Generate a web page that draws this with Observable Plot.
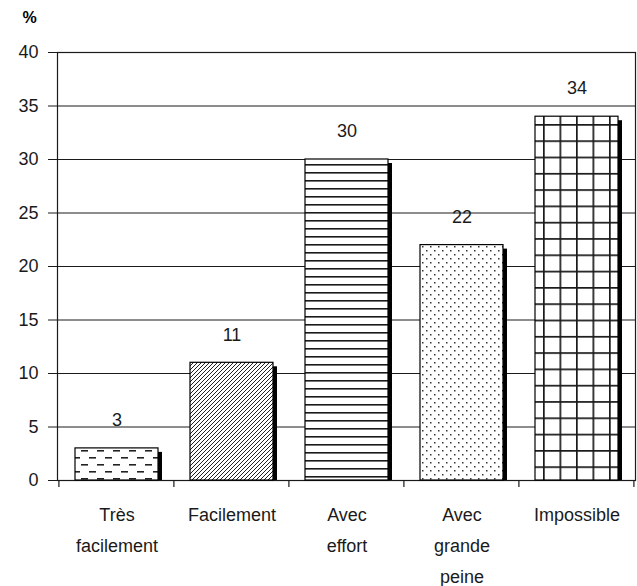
<!DOCTYPE html>
<html>
<head>
<meta charset="utf-8">
<script src="https://cdn.jsdelivr.net/npm/d3@7"></script>
<script src="https://cdn.jsdelivr.net/npm/@observablehq/plot@0.6"></script>
<style>
  body { margin: 0; background: #fff; }
  svg { display: block; }
</style>
</head>
<body>
<div id="chart"></div>
<script>
// Answers and their shares (%)
const categories = ["Très facilement", "Facilement", "Avec effort", "Avec grande peine", "Impossible"];
const categoryLabels = ["Très\nfacilement", "Facilement", "Avec\neffort", "Avec\ngrande\npeine", "Impossible"];
const values = [3, 11, 30, 22, 34];
const fillPatterns = ["dashes", "hatch", "hlines", "dots", "grid"];
const yTicks = [0, 5, 10, 15, 20, 25, 30, 35, 40];
const unitLabel = "%";

const data = categories.map((category, i) => ({
  category,
  value: values[i],
  fill: `url(#pat-${fillPatterns[i]})`
}));
const labelOf = new Map(categories.map((c, i) => [c, categoryLabels[i]]));

const FONT = "'Liberation Sans', Arial, sans-serif";
const INK = "#1a1a1a";
const PAD_INNER = 0.28;

// Monochrome fill patterns for the bars
function patternDefs() {
  const defs = d3.create("svg:defs");
  const pat = (id, w, h, x = 0, y = 0) => {
    const p = defs.append("pattern").attr("id", id)
      .attr("patternUnits", "userSpaceOnUse")
      .attr("x", x).attr("y", y).attr("width", w).attr("height", h);
    p.append("rect").attr("width", w).attr("height", h).attr("fill", "#fff");
    return p;
  };
  // short dashes, alternate rows shifted
  const dashes = pat("pat-dashes", 16, 14, 0, 2);
  dashes.append("rect").attr("x", 1).attr("y", 0).attr("width", 7).attr("height", 1.6).attr("fill", "#222");
  dashes.append("rect").attr("x", 9).attr("y", 7).attr("width", 7).attr("height", 1.6).attr("fill", "#222");
  // diagonal hatching
  const hatch = pat("pat-hatch", 4, 4);
  hatch.append("path").attr("d", "M-1,1 L1,-1 M0,4 L4,0 M3,5 L5,3")
    .attr("stroke", "#222").attr("stroke-width", 1);
  // horizontal lines
  const hl = pat("pat-hlines", 8, 8, 0, 4);
  hl.append("rect").attr("x", 0).attr("y", 0).attr("width", 8).attr("height", 1.6).attr("fill", "#1a1a1a");
  // staggered dots
  const dots = pat("pat-dots", 8, 8, 2, 2);
  dots.append("rect").attr("x", 0).attr("y", 0).attr("width", 1.5).attr("height", 1.5).attr("fill", "#333");
  dots.append("rect").attr("x", 4).attr("y", 4).attr("width", 1.5).attr("height", 1.5).attr("fill", "#333");
  // square grid
  const grid = pat("pat-grid", 16.5, 16.3, 543, 124);
  grid.append("rect").attr("x", 0).attr("y", 0).attr("width", 1.7).attr("height", 16.3).attr("fill", "#1a1a1a");
  grid.append("rect").attr("x", 0).attr("y", 0).attr("width", 16.5).attr("height", 1.7).attr("fill", "#1a1a1a");
  return defs.node();
}

const plot = Plot.plot({
  width: 637,
  height: 586,
  marginTop: 52,
  marginBottom: 106,
  marginLeft: 57,
  marginRight: 2,
  style: { fontFamily: FONT, color: INK, background: "#fff" },
  x: { domain: categories, paddingInner: PAD_INNER, paddingOuter: PAD_INNER / 2, label: null },
  y: { domain: [0, 40], label: null },
  color: { type: "identity" },
  marks: [
    patternDefs,
    Plot.ruleY(yTicks, { stroke: INK, strokeWidth: 1 }),
    Plot.frame({ stroke: INK, strokeWidth: 1.2 }),
    // drop shadow behind each bar
    Plot.barY(data, { x: "category", y: "value", fill: "#000", dx: 4, insetTop: 4 }),
    Plot.barY(data, { x: "category", y: "value", fill: "fill", stroke: "#000", strokeWidth: 1.2 }),
    Plot.text(data, {
      x: "category", y: "value", text: d => String(d.value),
      dy: -28, lineAnchor: "middle", fontSize: 18, fill: INK
    }),
    Plot.axisY({ ticks: yTicks, tickSize: 9, tickPadding: 10, fontSize: 18, label: null, stroke: INK }),
    Plot.axisX({
      tickSize: 0, tickPadding: 19, fontSize: 18, lineHeight: 1.72,
      tickFormat: d => labelOf.get(d), label: null
    }),
    Plot.text([unitLabel], {
      frameAnchor: "top-left", dx: -28, dy: -35, text: d => d,
      fontSize: 16, fontWeight: "bold", textAnchor: "middle", lineAnchor: "middle", fill: "#000"
    })
  ]
});

// Category separator ticks below the baseline, placed from the band scale
const sx = plot.scale("x");
const sy = plot.scale("y");
const half = sx.step * PAD_INNER / 2;
const bounds = categories.map(c => sx.apply(c) - half);
bounds.push(bounds[bounds.length - 1] + sx.step);
const base = sy.apply(0);
d3.select(plot).append("g")
  .attr("stroke", INK).attr("stroke-width", 1.2)
  .selectAll("line").data(bounds).join("line")
  .attr("x1", d => d).attr("x2", d => d)
  .attr("y1", base).attr("y2", base + 7);

document.getElementById("chart").append(plot);
</script>
</body>
</html>
